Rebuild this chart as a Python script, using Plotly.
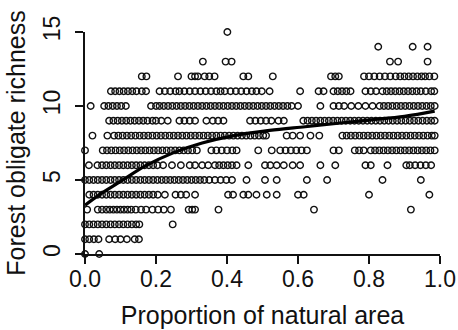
import plotly.graph_objects as go

# x positions (proportion of natural area) of sites, grouped by forest obligate richness
x_r00 = [0.0, 0.04]
x_r01 = [0.0, 0.012, 0.025, 0.038, 0.068, 0.085, 0.1, 0.118, 0.14, 0.152]
x_r02 = [0.0, 0.012, 0.024, 0.036, 0.048, 0.06, 0.072, 0.084, 0.096, 0.108, 0.12, 0.132,
         0.144, 0.153, 0.247]
x_r03 = [0.006, 0.036, 0.048, 0.06, 0.07, 0.08, 0.09, 0.1, 0.11, 0.12, 0.13, 0.143, 0.158,
         0.172, 0.19, 0.206, 0.222, 0.242, 0.292, 0.302, 0.31, 0.376, 0.645, 0.918]
x_r04 = [0.012, 0.024, 0.036, 0.048, 0.06, 0.072, 0.084, 0.096, 0.108, 0.12, 0.132, 0.144,
         0.156, 0.168, 0.18, 0.192, 0.205, 0.225, 0.255, 0.27, 0.285, 0.31, 0.403, 0.417,
         0.446, 0.46, 0.483, 0.512, 0.54, 0.6, 0.616, 0.8, 0.97]
x_r05 = [0.0, 0.012, 0.024, 0.036, 0.048, 0.06, 0.072, 0.084, 0.096, 0.108, 0.12, 0.132,
         0.144, 0.156, 0.168, 0.18, 0.192, 0.204, 0.216, 0.228, 0.24, 0.252, 0.264, 0.276,
         0.288, 0.3, 0.312, 0.324, 0.336, 0.35, 0.366, 0.382, 0.398, 0.414, 0.455, 0.507,
         0.54, 0.625, 0.682, 0.838, 0.946]
x_r06 = [0.011, 0.035, 0.048, 0.06, 0.072, 0.084, 0.096, 0.108, 0.12, 0.132, 0.144, 0.156,
         0.168, 0.18, 0.192, 0.204, 0.22, 0.245, 0.27, 0.295, 0.31, 0.33, 0.347, 0.366,
         0.378, 0.39, 0.402, 0.414, 0.427, 0.46, 0.507, 0.522, 0.54, 0.56, 0.585, 0.606,
         0.663, 0.705, 0.79, 0.805, 0.852, 0.905, 0.915, 0.93, 0.945, 0.96, 0.975]
x_r07 = [0.0, 0.05, 0.062, 0.074, 0.086, 0.098, 0.11, 0.122, 0.134, 0.146, 0.158, 0.17,
         0.182, 0.194, 0.206, 0.218, 0.23, 0.242, 0.254, 0.266, 0.278, 0.29, 0.302, 0.315,
         0.356, 0.37, 0.385, 0.4, 0.415, 0.427, 0.488, 0.526, 0.55, 0.565, 0.58, 0.595,
         0.61, 0.625, 0.7, 0.715, 0.76, 0.772, 0.785, 0.805, 0.817, 0.829, 0.841, 0.853,
         0.865, 0.877, 0.889, 0.901, 0.913, 0.925, 0.937, 0.949, 0.961, 0.973, 0.985]
x_r08 = [0.021, 0.063, 0.082, 0.094, 0.106, 0.118, 0.13, 0.142, 0.154, 0.166, 0.178, 0.19,
         0.202, 0.214, 0.226, 0.238, 0.25, 0.262, 0.274, 0.286, 0.298, 0.31, 0.322, 0.334,
         0.346, 0.358, 0.37, 0.382, 0.394, 0.406, 0.418, 0.43, 0.442, 0.454, 0.466, 0.478,
         0.49, 0.502, 0.51, 0.568, 0.585, 0.606, 0.635, 0.66, 0.725, 0.737, 0.749, 0.761,
         0.773, 0.785, 0.797, 0.809, 0.821, 0.833, 0.845, 0.857, 0.869, 0.881, 0.893,
         0.905, 0.917, 0.929, 0.941, 0.953, 0.965, 0.977, 0.985]
x_r09 = [0.068, 0.08, 0.092, 0.104, 0.116, 0.128, 0.14, 0.152, 0.164, 0.176, 0.19, 0.2,
         0.215, 0.233, 0.266, 0.28, 0.295, 0.31, 0.342, 0.36, 0.375, 0.39, 0.465, 0.48,
         0.495, 0.51, 0.525, 0.545, 0.56, 0.615, 0.627, 0.639, 0.651, 0.663, 0.675, 0.687,
         0.699, 0.711, 0.723, 0.735, 0.747, 0.759, 0.771, 0.783, 0.795, 0.807, 0.819,
         0.831, 0.843, 0.855, 0.867, 0.879, 0.891, 0.903, 0.915, 0.927, 0.939, 0.951,
         0.963, 0.975, 0.985]
x_r10 = [0.016, 0.054, 0.066, 0.078, 0.09, 0.102, 0.115, 0.186, 0.2, 0.21, 0.222, 0.234,
         0.246, 0.258, 0.27, 0.282, 0.294, 0.306, 0.318, 0.33, 0.342, 0.354, 0.366, 0.378,
         0.39, 0.402, 0.414, 0.426, 0.438, 0.45, 0.462, 0.474, 0.486, 0.498, 0.51, 0.522,
         0.534, 0.546, 0.558, 0.57, 0.582, 0.6, 0.663, 0.7, 0.715, 0.73, 0.75, 0.77, 0.79,
         0.81, 0.83, 0.842, 0.854, 0.866, 0.878, 0.89, 0.902, 0.914, 0.926, 0.938, 0.95,
         0.962, 0.974, 0.985]
x_r11 = [0.073, 0.085, 0.097, 0.109, 0.121, 0.133, 0.145, 0.16, 0.172, 0.21, 0.225, 0.24,
         0.255, 0.266, 0.28, 0.295, 0.31, 0.325, 0.34, 0.355, 0.37, 0.382, 0.394, 0.41,
         0.425, 0.44, 0.455, 0.47, 0.483, 0.498, 0.52, 0.606, 0.658, 0.672, 0.7, 0.712,
         0.724, 0.736, 0.748, 0.79, 0.805, 0.82, 0.838, 0.85, 0.862, 0.874, 0.886, 0.898,
         0.91, 0.922, 0.934, 0.946, 0.96, 0.975, 0.984]
x_r12 = [0.16, 0.173, 0.262, 0.3, 0.31, 0.318, 0.337, 0.35, 0.365, 0.446, 0.46, 0.529,
         0.693, 0.705, 0.715, 0.786, 0.8, 0.815, 0.83, 0.845, 0.86, 0.875, 0.888, 0.9,
         0.912, 0.924, 0.936, 0.948, 0.958, 0.97, 0.984]
x_r13 = [0.332, 0.396, 0.413, 0.859, 0.882, 0.965]
x_r14 = [0.826, 0.923, 0.965]
x_r15 = [0.401]

rows = [x_r00, x_r01, x_r02, x_r03, x_r04, x_r05, x_r06, x_r07,
        x_r08, x_r09, x_r10, x_r11, x_r12, x_r13, x_r14, x_r15]

# fitted relationship
fit_x = [0.0, 0.04, 0.1, 0.17, 0.25, 0.33, 0.42, 0.52, 0.62, 0.72, 0.8, 0.9, 0.985]
fit_y = [3.3, 4.0, 4.9, 5.95, 6.85, 7.5, 8.0, 8.35, 8.6, 8.85, 9.05, 9.3, 9.65]

x_ticks = [0.0, 0.2, 0.4, 0.6, 0.8, 1.0]
x_tick_text = ["0.0", "0.2", "0.4", "0.6", "0.8", "1.0"]
y_ticks = [0, 5, 10, 15]

xs, ys = [], []
for richness, row in enumerate(rows):
    xs.extend(row)
    ys.extend([richness] * len(row))

FONT = "Liberation Sans, Arial, Helvetica, sans-serif"

fig = go.Figure()
fig.add_trace(go.Scatter(
    x=xs, y=ys, mode="markers", cliponaxis=False,
    marker=dict(symbol="circle-open", size=6.5, color="#111111",
                line=dict(width=1.4, color="#111111")),
    showlegend=False, hoverinfo="skip"))
fig.add_trace(go.Scatter(
    x=fit_x, y=fit_y, mode="lines", cliponaxis=False,
    line=dict(color="#000000", width=3.2, shape="spline", smoothing=1.0),
    showlegend=False, hoverinfo="skip"))

fig.update_layout(
    width=458, height=330,
    margin=dict(l=85, r=18, t=32, b=76),
    paper_bgcolor="white", plot_bgcolor="white",
    font=dict(family=FONT, color="#111111", size=23),
    xaxis=dict(range=[0, 1], tickvals=x_ticks, ticktext=x_tick_text,
               showline=True, linecolor="#111111", linewidth=1.8,
               ticks="outside", ticklen=8, tickwidth=1.8, tickcolor="#111111",
               showgrid=False, zeroline=False, automargin=False,
               ticklabelstandoff=-5,
               tickfont=dict(size=23),
               title=dict(text="Proportion of natural area", font=dict(size=25),
                          standoff=16)),
    yaxis=dict(range=[0, 15], tickvals=y_ticks,
               showline=True, linecolor="#111111", linewidth=1.8,
               ticks="outside", ticklen=8, tickwidth=1.8, tickcolor="#111111",
               showgrid=False, zeroline=False, tickangle=-90, automargin=False,
               ticklabelstandoff=6,
               tickfont=dict(size=23),
               title=dict(text="Forest obligate richness", font=dict(size=25),
                          standoff=6)),
)

fig.write_html("out.html")
